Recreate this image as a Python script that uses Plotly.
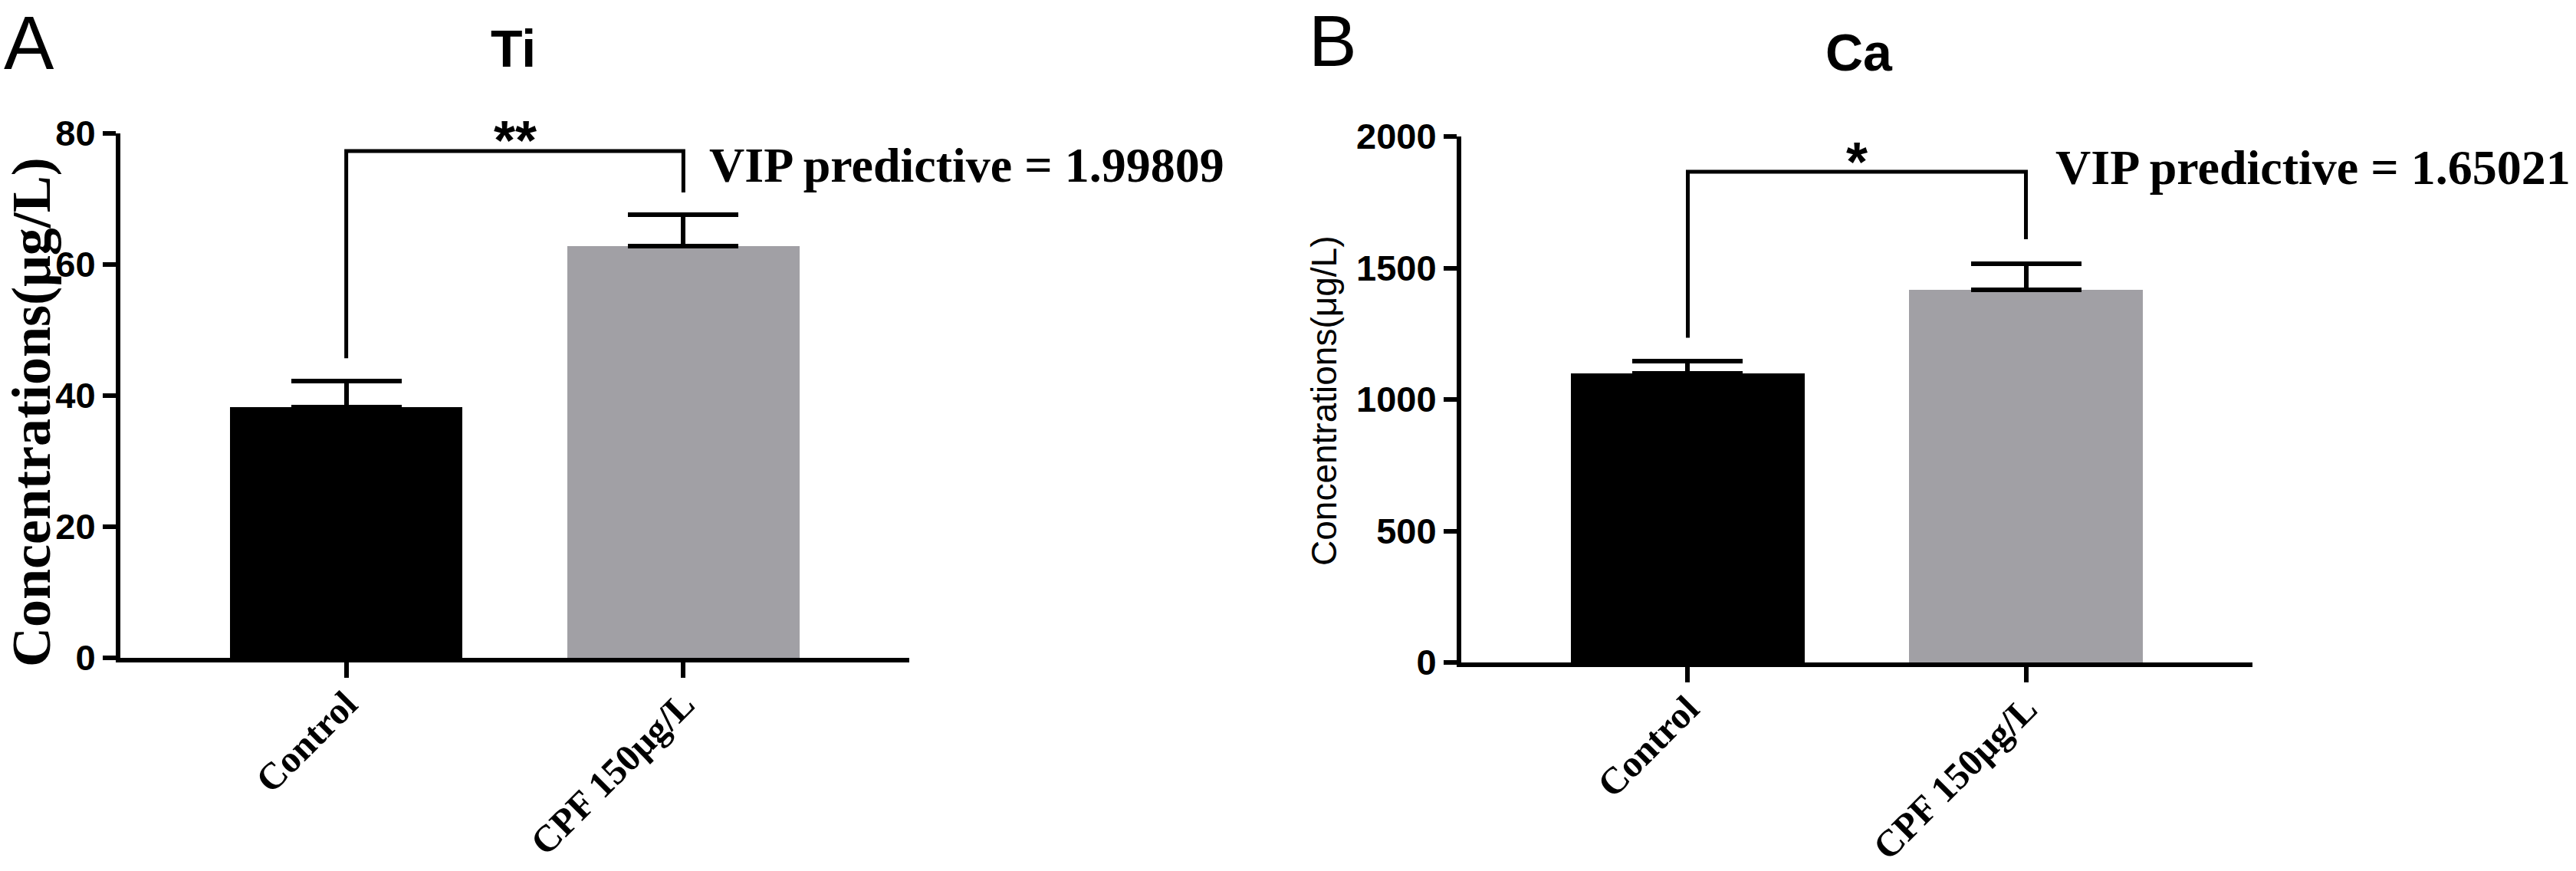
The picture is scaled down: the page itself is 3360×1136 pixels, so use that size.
import plotly.graph_objects as go

# ---------------- data ----------------
categories = ["Control", "CPF 150μg/L"]

ti_mean = [38.3, 62.8]
ti_sd = [3.9, 4.8]
ti_bracket_y = [45.7, 77.3, 77.3, 71.0]
ti_sig = "**"
ti_vip = "VIP predictive = 1.99809"

ca_mean = [1100, 1418]
ca_sd = [46, 99]
ca_bracket_y = [1235, 1866, 1866, 1609]
ca_sig = "*"
ca_vip = "VIP predictive = 1.65021"

ti_ticks = [0, 20, 40, 60, 80]
ca_ticks = [0, 500, 1000, 1500, 2000]

bar_colors = ["#000000", "#A1A0A5"]

W, H = 3360, 1136

fig = go.Figure()

# Ti bars
fig.add_trace(go.Bar(
    x=categories, y=ti_mean, width=0.69,
    marker=dict(color=bar_colors, line=dict(width=0)),
    error_y=dict(type="data", symmetric=False, array=ti_sd, arrayminus=[0, 0],
                 color="black", thickness=6, width=72),
    xaxis="x", yaxis="y", showlegend=False))
fig.add_trace(go.Scatter(
    x=[categories[0], categories[0], categories[1], categories[1]], y=ti_bracket_y,
    mode="lines", line=dict(color="black", width=5), xaxis="x", yaxis="y",
    showlegend=False))

# Ca bars
fig.add_trace(go.Bar(
    x=categories, y=ca_mean, width=0.69,
    marker=dict(color=bar_colors, line=dict(width=0)),
    error_y=dict(type="data", symmetric=False, array=ca_sd, arrayminus=[0, 0],
                 color="black", thickness=6, width=72),
    xaxis="x2", yaxis="y2", showlegend=False))
fig.add_trace(go.Scatter(
    x=[categories[0], categories[0], categories[1], categories[1]], y=ca_bracket_y,
    mode="lines", line=dict(color="black", width=5), xaxis="x2", yaxis="y2",
    showlegend=False))

xtickfont = dict(family="Liberation Serif", size=49, color="black", weight="bold")
ytickfont = dict(family="Liberation Sans", size=47, color="black", weight="bold")

common_x = dict(type="category", range=[-0.67, 1.67], showline=True, linewidth=6,
                linecolor="black", ticks="outside", ticklen=20, tickwidth=6,
                tickcolor="black", tickangle=-45, tickfont=xtickfont,
                ticklabelstandoff=-14,
                showgrid=False, zeroline=False, automargin=False)
common_y = dict(showline=True, linewidth=6, linecolor="black", ticks="outside",
                ticklen=17, tickwidth=6, tickcolor="black", tickfont=ytickfont,
                showgrid=False, zeroline=False, automargin=False)

fig.update_layout(
    template="none",
    width=W, height=H, autosize=False,
    margin=dict(l=0, r=0, t=0, b=0, pad=0),
    paper_bgcolor="white", plot_bgcolor="white",
    bargap=0,
    xaxis=dict(domain=[157 / W, 1186 / W], anchor="y", **common_x),
    yaxis=dict(domain=[1 - 858 / H, 1 - 174 / H], anchor="x", range=[0, 80],
               tickvals=ti_ticks, **common_y),
    xaxis2=dict(domain=[1906 / W, 2938 / W], anchor="y2", **common_x),
    yaxis2=dict(domain=[1 - 864 / H, 1 - 178 / H], anchor="x2", range=[0, 2000],
                tickvals=ca_ticks, **common_y),
)

ann = []
# panel letters
ann.append(dict(text="A", x=37.5 / W, y=1.0, xref="paper", yref="paper",
                xanchor="center", yanchor="top", showarrow=False, borderpad=0,
                font=dict(family="Liberation Sans", size=98, color="black")))
ann.append(dict(text="B", x=1738 / W, y=1.0, xref="paper", yref="paper",
                xanchor="center", yanchor="top", showarrow=False, borderpad=0,
                font=dict(family="Liberation Sans", size=94, color="black")))
# titles
ann.append(dict(text="Ti", x=669 / W, y=1 - 63 / H, xref="paper", yref="paper",
                xanchor="center", yanchor="middle", showarrow=False,
                font=dict(family="Liberation Sans", size=68, color="black", weight="bold")))
ann.append(dict(text="Ca", x=2425 / W, y=1 - 68 / H, xref="paper", yref="paper",
                xanchor="center", yanchor="middle", showarrow=False,
                font=dict(family="Liberation Sans", size=68, color="black", weight="bold")))
# y-axis titles
ann.append(dict(text="Concentrations(μg/L)", x=41 / W, y=1 - 538 / H, xref="paper",
                yref="paper", xanchor="center", yanchor="middle", textangle=-90,
                showarrow=False,
                font=dict(family="Liberation Serif", size=72, color="black", weight="bold")))
ann.append(dict(text="Concentrations(μg/L)", x=1727 / W, y=1 - 522 / H, xref="paper",
                yref="paper", xanchor="center", yanchor="middle", textangle=-90,
                showarrow=False,
                font=dict(family="Liberation Sans", size=46, color="black")))
# significance marks
ann.append(dict(text=ti_sig, x=0.5, y=78.9, xref="x", yref="y", xanchor="center",
                yanchor="middle", showarrow=False,
                font=dict(family="Liberation Sans", size=72, color="black", weight="bold")))
ann.append(dict(text=ca_sig, x=0.5, y=1904, xref="x2", yref="y2", xanchor="center",
                yanchor="middle", showarrow=False,
                font=dict(family="Liberation Sans", size=72, color="black", weight="bold")))
# VIP labels
ann.append(dict(text=ti_vip, x=923 / W, y=75.2, xref="paper", yref="y", xanchor="left",
                yanchor="middle", showarrow=False,
                font=dict(family="Liberation Serif", size=64, color="black", weight="bold")))
ann.append(dict(text=ca_vip, x=2679 / W, y=1882, xref="paper", yref="y2", xanchor="left",
                yanchor="middle", showarrow=False,
                font=dict(family="Liberation Serif", size=64, color="black", weight="bold")))

fig.update_layout(annotations=ann)

fig.write_html("out.html", config={"displayModeBar": False},
               post_script="document.body.style.margin='0px';")
